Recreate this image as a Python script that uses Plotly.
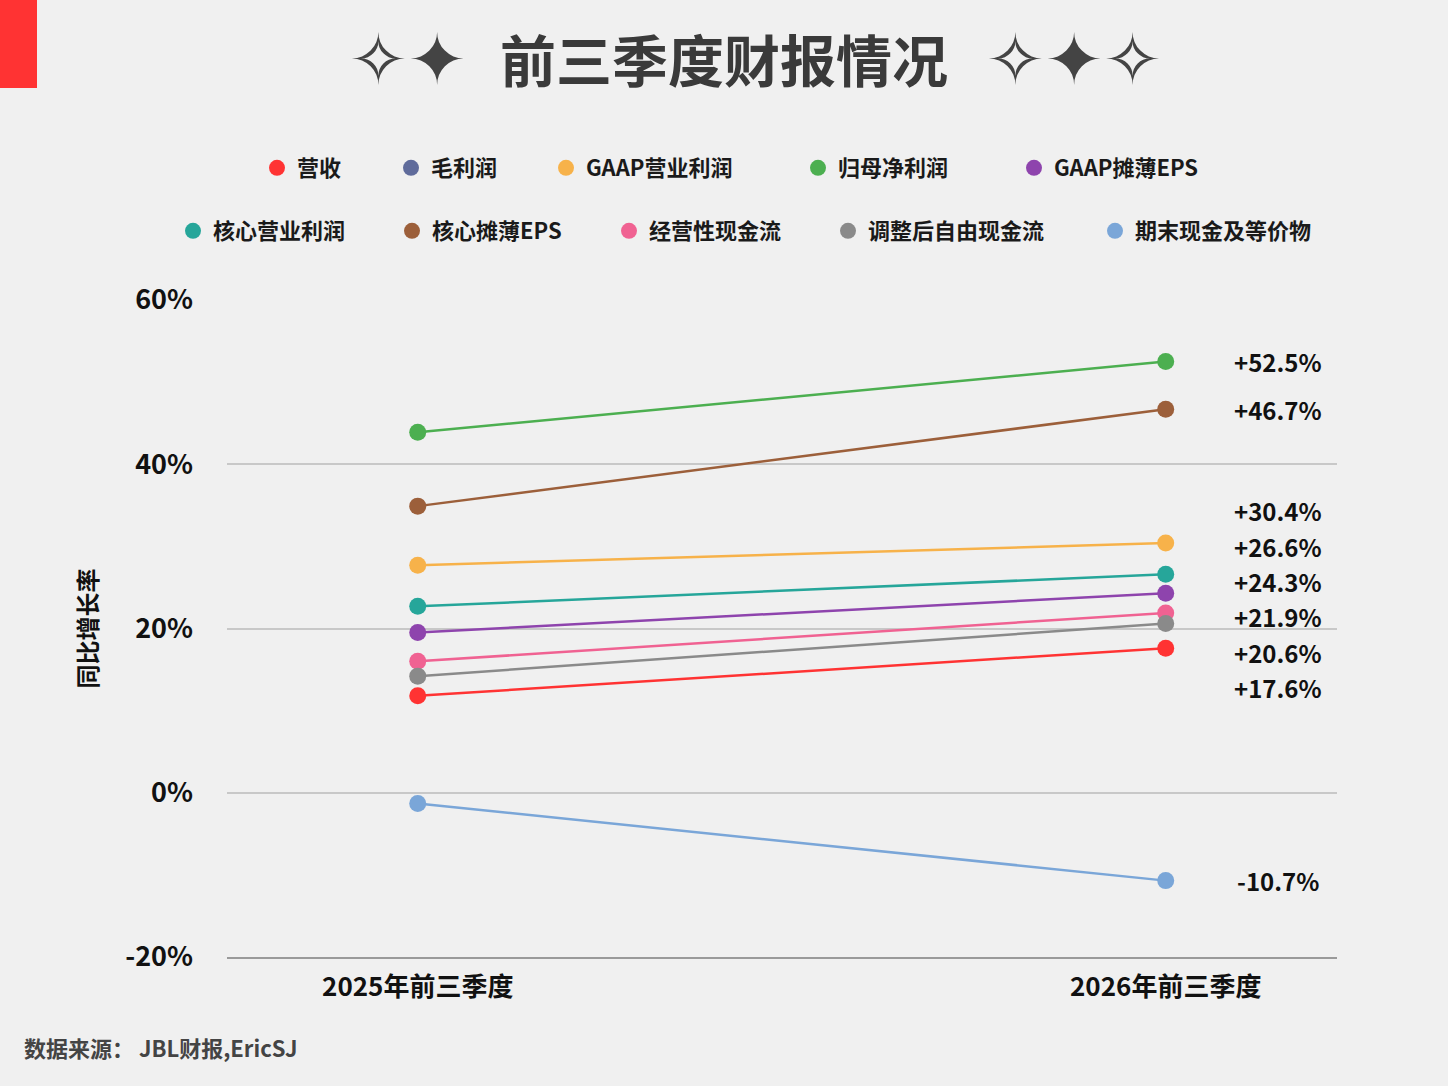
import plotly.graph_objects as go

# ---------------- data ----------------
periods = ["2025年前三季度", "2026年前三季度"]
series_names = ["营收", "毛利润", "GAAP营业利润", "归母净利润", "GAAP摊薄EPS",
                "核心营业利润", "核心摊薄EPS", "经营性现金流", "调整后自由现金流", "期末现金及等价物"]
colors = ["#ff3333", "#5f6b9b", "#f7b24a", "#4caf50", "#8e44ad",
          "#26a69a", "#9c5f3a", "#f06292", "#8a8a8a", "#7aa6d8"]
val_2025 = [11.8, None, 27.7, 43.9, 19.5, 22.7, 34.9, 16.0, 14.2, -1.3]
val_2026 = [17.6, None, 30.4, 52.5, 24.3, 26.6, 46.7, 21.9, 20.6, -10.7]
y_ticks = [-20, 0, 20, 40, 60]
y_tick_text = ["-20%", "0%", "20%", "40%", "60%"]

FONT = "Noto Sans CJK SC, Noto Sans, sans-serif"
BG = "#f0f0f0"

# paper coords helpers (plot area: x 227..1337, y 300..957 px)
def px_x(p):
    return (p - 227) / 1110.0
def px_y(p):
    return (957 - p) / 657.0

fig = go.Figure()

# lines + markers
for name, c, a, b in zip(series_names, colors, val_2025, val_2026):
    fig.add_trace(go.Scatter(
        x=[0, 1], y=[a, b], mode="lines+markers", name=name,
        line=dict(color=c, width=2.5), marker=dict(color=c, size=17),
        showlegend=False, hoverinfo="skip"))

# legend entries: one legend per item, placed like the reference
legend_px = [(274, 168), (408, 168), (563, 168), (815, 168), (1031, 168),
             (190, 231), (409, 231), (626, 231), (845, 231), (1112, 231)]
legend_layout = {}
for i, (name, c) in enumerate(zip(series_names, colors)):
    key = "legend" if i == 0 else f"legend{i + 1}"
    fig.add_trace(go.Scatter(
        x=[None], y=[None], mode="markers", name=name,
        marker=dict(color=c, size=22), legend=key))
    cx, cy = legend_px[i]
    legend_layout[key] = dict(
        x=px_x(cx - 17), y=px_y(cy), xanchor="left", yanchor="middle",
        orientation="h", bgcolor="rgba(0,0,0,0)", itemsizing="trace",
        font=dict(family=FONT, size=22, color="#1a1a1a", weight="bold"))

# value labels with simple dodge
def dodge(vals, gap):
    idx = [i for i, v in enumerate(vals) if v is not None]
    order = sorted(idx, key=lambda i: vals[i])
    pos = [vals[i] for i in order]
    for _ in range(1000):
        moved = False
        for k in range(len(pos) - 1):
            d = pos[k + 1] - pos[k]
            if d < gap - 1e-9:
                s = (gap - d) / 2
                pos[k] -= s
                pos[k + 1] += s
                moved = True
        if not moved:
            break
    out = list(vals)
    for k, i in enumerate(order):
        out[i] = pos[k]
    return out

label_y = dodge(val_2026, 4.3)
for v, ly in zip(val_2026, label_y):
    if v is None:
        continue
    fig.add_annotation(x=1.15, y=ly, xref="x", yref="y",
                       text=f"{v:+.1f}%", showarrow=False, xanchor="center", yanchor="middle",
                       font=dict(family=FONT, size=24, color="#111111", weight="bold"))

# title with sparkles
fig.add_annotation(x=px_x(724), y=px_y(58), xref="paper", yref="paper", xanchor="center", yanchor="middle",
                   text="前三季度财报情况", showarrow=False,
                   font=dict(family=FONT, size=56, color="#3a3a3a", weight="bold"))
fig.add_annotation(x=px_x(407), y=px_y(60), xref="paper", yref="paper", xanchor="center", yanchor="middle",
                   text="✧✦", showarrow=False,
                   font=dict(family="DejaVu Sans", size=70, color="#444444"))
fig.add_annotation(x=px_x(1074), y=px_y(60), xref="paper", yref="paper", xanchor="center", yanchor="middle",
                   text="✧✦✧", showarrow=False,
                   font=dict(family="DejaVu Sans", size=70, color="#444444"))

# source
fig.add_annotation(x=px_x(22), y=px_y(1047), xref="paper", yref="paper", xanchor="left", yanchor="middle",
                   text="数据来源： JBL财报,EricSJ", showarrow=False,
                   font=dict(family=FONT, size=22, color="#444444", weight="bold"))

# red corner block
fig.add_shape(type="rect", xref="paper", yref="paper",
              x0=px_x(0), x1=px_x(37), y0=px_y(88), y1=px_y(0),
              fillcolor="#ff3333", line=dict(width=0), layer="above")

fig.update_layout(
    width=1448, height=1086,
    margin=dict(l=227, r=111, t=300, b=129),
    paper_bgcolor=BG, plot_bgcolor=BG,
    font=dict(family=FONT, color="#111111"),
    xaxis=dict(range=[-0.255, 1.229], tickmode="array", tickvals=[0, 1], ticktext=periods,
               showgrid=False, zeroline=False, showline=True, linecolor="#9a9a9a", linewidth=1.5,
               ticks="", ticklabelstandoff=6,
               tickfont=dict(family=FONT, size=26, color="#111111", weight="bold")),
    yaxis=dict(range=[-20, 60], tickmode="array", tickvals=y_ticks, ticktext=y_tick_text,
               showgrid=True, gridcolor="#c8c8c8", gridwidth=1.5, zeroline=False,
               showline=False, ticks="", ticklabelstandoff=33,
               tickfont=dict(family=FONT, size=27, color="#111111", weight="bold"),
               title=dict(text="同比增长率", standoff=20,
                          font=dict(family=FONT, size=24, color="#111111", weight="bold"))),
    **legend_layout,
)

fig.write_html("out.html")
